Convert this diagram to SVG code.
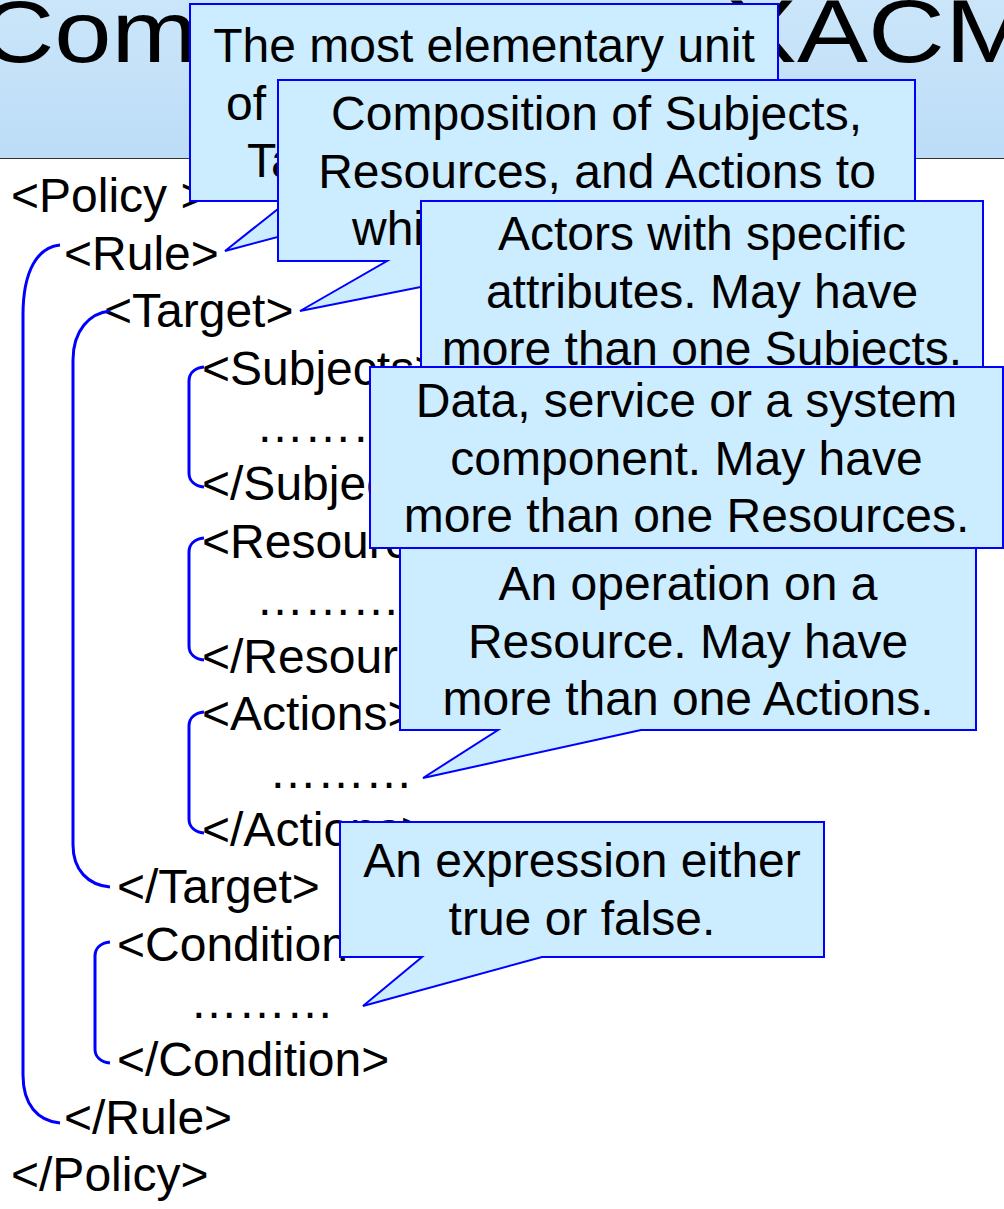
<svg xmlns="http://www.w3.org/2000/svg" width="1004" height="1209" viewBox="0 0 1004 1209">
  <defs>
    <linearGradient id="bandFill" x1="0" y1="0" x2="0" y2="1">
      <stop offset="0" stop-color="#cbe6fa"/>
      <stop offset="1" stop-color="#bcdcf7"/>
    </linearGradient>
    <style>
      text { font-family: "Liberation Sans", Arial, sans-serif; fill: #000; }
      .code { font-size: 48px; }
      .note { font-size: 48px; text-anchor: middle; }
      .note-frag { font-size: 48px; }
      .title { font-size: 88px; }
      .callout { fill: #ccecff; stroke: #0000ff; stroke-width: 2; stroke-linejoin: miter; }
      .brace { fill: none; stroke: #0000ff; stroke-width: 3; stroke-linecap: butt; }
    </style>
  </defs>

  <rect width="1004" height="1209" fill="#ffffff"/>

  <!-- title band -->
  <g id="title">
    <rect x="0" y="0" width="1004" height="158" fill="url(#bandFill)"/>
    <line x1="0" y1="158.5" x2="1004" y2="158.5" stroke="#333333" stroke-width="1"/>
    <text class="title" transform="translate(-20 62) scale(1.17 1)">Com</text>
    <text class="title" transform="translate(726 62) scale(1.21 1)">XACM</text>
  </g>

  <!-- policy listing -->
  <g id="listing" class="code">
    <text x="11" y="212">&lt;Policy &gt;</text>
    <text x="64" y="269.6">&lt;Rule&gt;</text>
    <text x="104" y="327.2">&lt;Target&gt;</text>
    <text x="202" y="384.8">&lt;Subjects&gt;</text>
    <text x="256" y="442.4">………</text>
    <text x="202" y="500">&lt;/Subjects&gt;</text>
    <text x="202" y="557.6">&lt;Resources&gt;</text>
    <text x="256" y="615.2">………</text>
    <text x="202" y="672.8">&lt;/Resources&gt;</text>
    <text x="202" y="730.4">&lt;Actions&gt;</text>
    <text x="269" y="788">………</text>
    <text x="202" y="846">&lt;/Actions&gt;</text>
    <text x="117" y="903.2">&lt;/Target&gt;</text>
    <text x="117" y="960.8">&lt;Condition&gt;</text>
    <text x="190" y="1018.4">………</text>
    <text x="117" y="1076">&lt;/Condition&gt;</text>
    <text x="64" y="1133.6">&lt;/Rule&gt;</text>
    <text x="11" y="1191.2">&lt;/Policy&gt;</text>
  </g>

  <!-- nesting brackets -->
  <g id="connectors">
    <path id="brace-rule" class="brace" d="M60,245 C38,247 23,270 23,315 V1075 C23,1105 38,1121 60,1123"/>
    <path id="brace-target" class="brace" d="M110,311 C90,313 73,330 73,360 V845 C73,870 88,885 110,887"/>
    <path id="brace-subjects" class="brace" d="M204,367 C195,368 189,373 189,381 V473 C189,481 195,486 204,487"/>
    <path id="brace-resources" class="brace" d="M204,538 C195,539 189,544 189,552 V646 C189,654 195,659 204,660"/>
    <path id="brace-actions" class="brace" d="M204,712 C195,713 189,718 189,726 V819 C189,827 195,832 204,833"/>
    <path id="brace-condition" class="brace" d="M110,942 C101,943 95,948 95,956 V1049 C95,1057 101,1062 110,1063"/>
  </g>

  <!-- callouts -->
  <g id="callout-rule">
    <path class="callout" d="M190,4 H778 V201 H414 L225,251 L288,201 H190 Z"/>
    <text class="note" x="484" y="62">The most elementary unit</text>
    <text class="note-frag" x="226" y="119.6">of</text>
    <text class="note-frag" x="247" y="177.2">Ta</text>
  </g>

  <g id="callout-target">
    <path class="callout" d="M278,80 H915 V261 H552 L300,311 L387,261 H278 Z"/>
    <text class="note" x="596.5" y="130">Composition of Subjects,</text>
    <text class="note" x="597" y="187.6">Resources, and Actions to</text>
    <text class="note-frag" x="352" y="245.2">whi</text>
  </g>

  <g id="callout-subjects">
    <rect class="callout" x="421" y="201" width="562" height="180"/>
    <text class="note" x="702" y="250">Actors with specific</text>
    <text class="note" x="702" y="307.6">attributes. May have</text>
    <text class="note" x="702" y="365.2">more than one Subjects.</text>
  </g>

  <g id="callout-actions">
    <path class="callout" d="M400,548 H976 V730 H641 L423,778 L498,730 H400 Z"/>
    <text class="note" x="688" y="600">An operation on a</text>
    <text class="note" x="688" y="657.6">Resource. May have</text>
    <text class="note" x="688" y="715.2">more than one Actions.</text>
  </g>

  <g id="callout-resources">
    <rect class="callout" x="370" y="367" width="633" height="181"/>
    <text class="note" x="686.5" y="417">Data, service or a system</text>
    <text class="note" x="686.5" y="474.6">component. May have</text>
    <text class="note" x="686.5" y="532.2">more than one Resources.</text>
  </g>

  <g id="callout-condition">
    <path class="callout" d="M340,822 H824 V957 H542 L363,1006 L422,957 H340 Z"/>
    <text class="note" x="582" y="877">An expression either</text>
    <text class="note" x="582" y="934.6">true or false.</text>
  </g>
</svg>
